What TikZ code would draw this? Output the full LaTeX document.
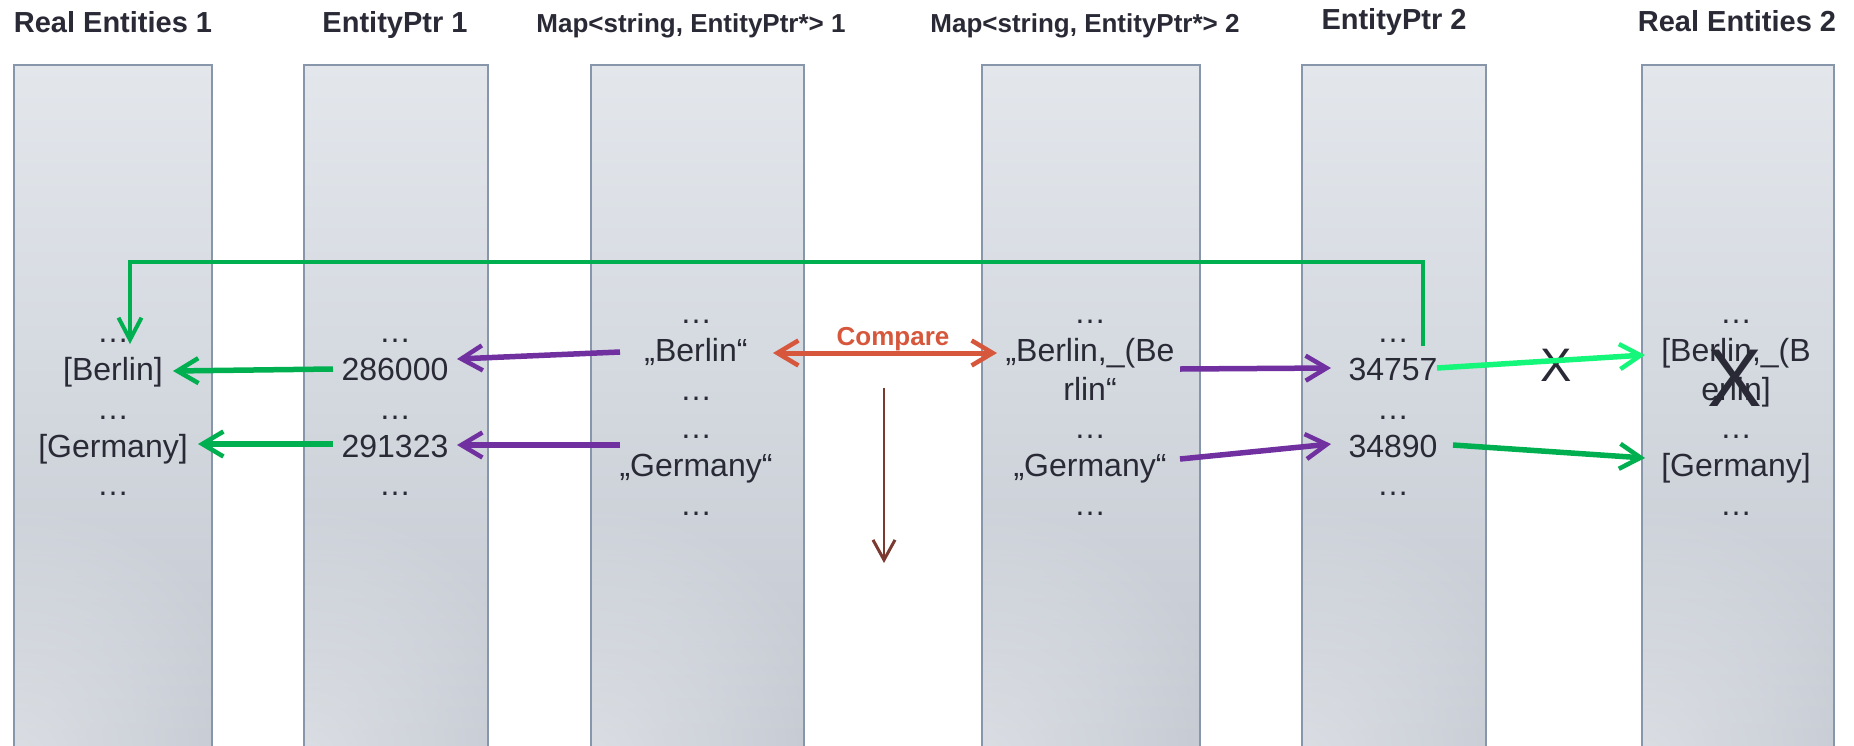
\documentclass[tikz,border=0pt]{standalone}
\usepackage{fontspec}
\setmainfont{Liberation Sans}
\usetikzlibrary{arrows.meta,fadings}

\definecolor{txt}{HTML}{292A35}
\definecolor{colborder}{HTML}{8796AB}
\definecolor{coltop}{HTML}{E3E7EC}
\definecolor{colbot}{HTML}{C2C7D0}
\definecolor{grn}{HTML}{00B050}
\definecolor{brightgrn}{HTML}{14F77A}
\definecolor{prp}{HTML}{7030A0}
\definecolor{cmp}{HTML}{D6573B}
\definecolor{brn}{HTML}{7A3A30}

\tikzfading[name=cornerglow, inner color=transparent!60, outer color=transparent!100]

\tikzset{
  column/.style={top color=coltop, bottom color=colbot},
  colframe/.style={draw=colborder, line width=2.5pt},
  title/.style={font=\bfseries\fontsize{29}{34}\selectfont, text=txt, anchor=base, inner sep=0pt},
  maptitle/.style={title, font=\bfseries\fontsize{26}{30}\selectfont},
  entry/.style={font=\fontsize{32}{38}\selectfont, text=txt, anchor=base, inner sep=0pt},
  barb/.tip={Straight Barb[length=21pt,width=25pt,line width=4.5pt]},
  chev/.style={-barb, line width=5.5pt},
  chevboth/.style={barb-barb, line width=5pt},
  thinchev/.style={-{Straight Barb[length=20pt,width=22pt,line width=3pt]}, line width=2pt},
  linkchev/.style={-{Straight Barb[length=22pt,width=23pt,line width=4pt]}, line width=3.5pt},
}

% one storage column: left edge, right edge
\newcommand\datacol[2]{%
  \path[column] (#1,65) rectangle (#2,760);
  \begin{scope}
    \clip (#1,65) rectangle (#2,760);
    \fill[white, path fading=cornerglow] (#1,760) circle (260);
  \end{scope}
  \draw[colframe] (#1,760) -- (#1,65) -- (#2,65) -- (#2,760);
}

\begin{document}
\begin{tikzpicture}[x=1pt, y=-1pt]
\useasboundingbox (0,0) rectangle (1854,745);
\fill[white] (0,0) rectangle (1854,745);

% storage columns
\datacol{14}{212}
\datacol{304}{488}
\datacol{591}{804}
\datacol{982}{1200}
\datacol{1302}{1486}
\datacol{1642}{1834}

% column headings
\node[title]    (t1) at (113,32)  {Real Entities 1};
\node[title]    (t2) at (395,32)  {EntityPtr 1};
\node[maptitle] (t3) at (691,32)  {Map<string, EntityPtr*> 1};
\node[maptitle] (t4) at (1085,32) {Map<string, EntityPtr*> 2};
\node[title]    (t5) at (1394,29) {EntityPtr 2};
\node[title]    (t6) at (1737,31) {Real Entities 2};

% Real Entities 1
\node[entry] (a1) at (113,342)   {…};
\node[entry] (a2) at (113,380.5) {[Berlin]};
\node[entry] (a3) at (113,419)   {…};
\node[entry] (a4) at (113,457)   {[Germany]};
\node[entry] (a5) at (113,495)   {…};

% EntityPtr 1
\node[entry] (b1) at (395,342)   {…};
\node[entry] (b2) at (395,380.5) {286000};
\node[entry] (b3) at (395,419)   {…};
\node[entry] (b4) at (395,457)   {291323};
\node[entry] (b5) at (395,495)   {…};

% Map 1
\node[entry] (c1) at (696,323)   {…};
\node[entry] (c2) at (696,361.5) {„Berlin“};
\node[entry] (c3) at (696,400)   {…};
\node[entry] (c4) at (696,438)   {…};
\node[entry] (c5) at (696,476.5) {„Germany“};
\node[entry] (c6) at (696,515)   {…};

% Map 2
\node[entry] (d1) at (1090,323)   {…};
\node[entry] (d2) at (1090,361.5) {„Berlin,\_(Be};
\node[entry] (d3) at (1090,400)   {rlin“};
\node[entry] (d4) at (1090,438)   {…};
\node[entry] (d5) at (1090,476.5) {„Germany“};
\node[entry] (d6) at (1090,515)   {…};

% EntityPtr 2
\node[entry] (e1) at (1393,342)   {…};
\node[entry] (e2) at (1393,380.5) {34757};
\node[entry] (e3) at (1393,419)   {…};
\node[entry] (e4) at (1393,457)   {34890};
\node[entry] (e5) at (1393,495)   {…};

% Real Entities 2
\node[entry] (f1) at (1736,323)   {…};
\node[entry] (f2) at (1736,361.5) {[Berlin,\_(B};
\node[entry] (f3) at (1736,400)   {erlin]};
\node[entry] (f4) at (1736,438)   {…};
\node[entry] (f5) at (1736,476.5) {[Germany]};
\node[entry] (f6) at (1736,515)   {…};

% failed-lookup markers
\node[text=txt, anchor=base, inner sep=0pt, font=\fontsize{47}{47}\selectfont] (xsmall) at (1556,381) {X};
\node[text=txt, anchor=base, inner sep=0pt, font=\fontsize{82}{82}\selectfont] (xbig) at (1735,406) {X};

% comparison label
\node[text=cmp, anchor=base, inner sep=0pt, font=\bfseries\fontsize{26}{30}\selectfont] (cmplabel) at (893,345) {Compare};

% connector end points
\coordinate (gB1) at (333,369);   \coordinate (gB2) at (173,371);
\coordinate (gG1) at (333,444);   \coordinate (gG2) at (198,444);
\coordinate (pB1) at (620,352);   \coordinate (pB2) at (457,359);
\coordinate (pG1) at (620,445);   \coordinate (pG2) at (457,445);
\coordinate (cL)  at (773,353);   \coordinate (cR)  at (997,353);
\coordinate (dn1) at (884,388);   \coordinate (dn2) at (884,563);
\coordinate (qB1) at (1180,369);  \coordinate (qB2) at (1331,368);
\coordinate (qG1) at (1180,459);  \coordinate (qG2) at (1331,444);
\coordinate (hB1) at (1437,368);  \coordinate (hB2) at (1645,355);
\coordinate (hG1) at (1453,445);  \coordinate (hG2) at (1645,458);
\coordinate (lk1) at (1423,346);  \coordinate (lk2) at (130,344);

% pointers into the real entities
\draw[chev, grn] (gB1) -- (gB2);
\draw[chev, grn] (gG1) -- (gG2);
\draw[chev, prp] (pB1) -- (pB2);
\draw[chev, prp] (pG1) -- (pG2);
\draw[chevboth, cmp] (cL) -- (cR);
\draw[thinchev, brn] (dn1) -- (dn2);
\draw[chev, prp] (qB1) -- (qB2);
\draw[chev, prp] (qG1) -- (qG2);
\draw[chev, brightgrn] (hB1) -- (hB2);
\draw[chev, grn] (hG1) -- (hG2);
\draw[linkchev, grn] (lk1) -- (lk1 |- 0,262) -- (lk2 |- 0,262) -- (lk2);
\end{tikzpicture}
\end{document}
